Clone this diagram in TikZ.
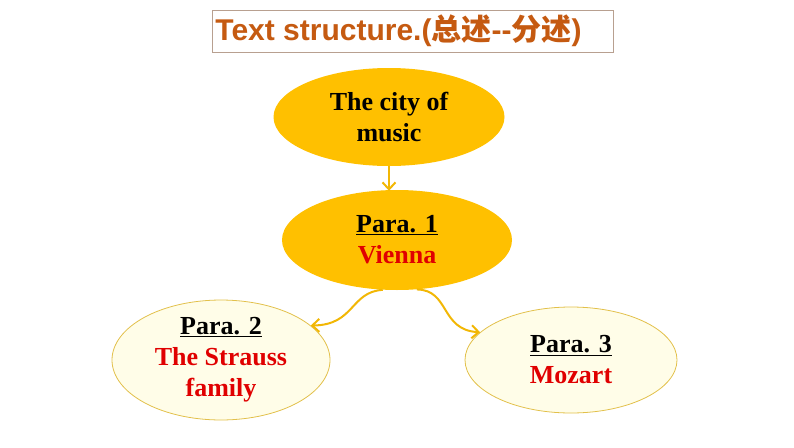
\documentclass[tikz,border=0pt]{standalone}
\usepackage{fontspec}
\setmainfont{Liberation Serif}
\newfontfamily\titlesans{Liberation Sans}
\newfontfamily\cjk{Noto Sans CJK SC}
\usetikzlibrary{shapes.geometric,arrows.meta}
\definecolor{gold}{HTML}{FFC000}
\definecolor{goldline}{HTML}{F2B705}
\definecolor{paleyellow}{HTML}{FFFDE8}
\definecolor{paleedge}{HTML}{E2C04A}
\definecolor{titlecol}{HTML}{C55A11}
\definecolor{titleedge}{HTML}{B8A090}
\definecolor{redtext}{HTML}{E00000}
\tikzset{
  bigoval/.style={ellipse, fill=gold, draw=none, inner sep=0pt, align=center,
    font=\fontsize{26}{31}\selectfont\bfseries},
  smalloval/.style={ellipse, fill=paleyellow, draw=paleedge, line width=0.8pt, inner sep=0pt, align=center,
    font=\fontsize{26}{31}\selectfont\bfseries},
  flowarrow/.style={draw=goldline, line width=2pt, -{Straight Barb[length=7pt,width=13pt,line width=2pt]}},
}
\begin{document}
\begin{tikzpicture}[x=1pt,y=-1pt]
\useasboundingbox (0,0) rectangle (794,447);
\node[draw=titleedge, line width=0.8pt, rectangle, minimum width=401pt, minimum height=42pt, inner sep=0pt] (titlebox) at (412.5,31) {};
\node[inner sep=0pt, text=titlecol, font=\fontsize{30}{34}\selectfont\bfseries] (title) at (398.5,31)
  {\titlesans Text structure.(\cjk 总述\titlesans --\cjk 分述\titlesans )};
\node[bigoval, minimum width=231pt, minimum height=98pt] (city) at (389,117) {The city of\\music};
\node[bigoval, minimum width=230pt, minimum height=100pt] (p1) at (397,240) {\underline{Para. 1}\\\textcolor{redtext}{Vienna}};
\node[smalloval, minimum width=218pt, minimum height=116pt] (p2) at (221,360) {\underline{Para. 2}\\\textcolor{redtext}{The Strauss}\\\textcolor{redtext}{family}};
\node[smalloval, minimum width=212pt, minimum height=106pt] (p3) at (571,360) {\underline{Para. 3}\\\textcolor{redtext}{Mozart}};
\coordinate (cityend) at ([yshift=-1pt]city.south |- p1.north);
\draw[flowarrow] (city.south) -- (cityend);
\draw[flowarrow] (p1.254) .. controls (350,292) and (355,325) .. (p2.21);
\draw[flowarrow] (p1.292) .. controls (450,290) and (440,330) .. (p3.163);
\end{tikzpicture}
\end{document}
